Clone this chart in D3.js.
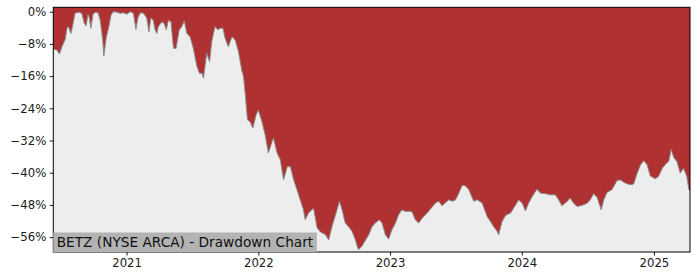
<!DOCTYPE html>
<html>
<head>
<meta charset="utf-8">
<script src="https://cdn.jsdelivr.net/npm/d3@7"></script>
<style>
  html, body { margin: 0; padding: 0; background: #ffffff; }
  svg { display: block; }
</style>
</head>
<body>
<svg id="chart" width="700" height="280"></svg>
<script>
const title = "BETZ (NYSE ARCA) - Drawdown Chart";
const dates = [
  "2020-06-12","2020-06-22","2020-06-29","2020-07-06","2020-07-15","2020-07-20","2020-07-24","2020-07-31",
  "2020-08-05","2020-08-11","2020-08-20","2020-08-30","2020-09-06","2020-09-11","2020-09-16","2020-09-20",
  "2020-09-24","2020-09-30","2020-10-06","2020-10-14","2020-10-20","2020-10-27","2020-10-30","2020-11-06",
  "2020-11-12","2020-11-19","2020-11-25","2020-12-05","2020-12-14","2020-12-23","2021-01-02","2021-01-11",
  "2021-01-20","2021-01-27","2021-02-01","2021-02-08","2021-02-17","2021-02-26","2021-03-04","2021-03-09",
  "2021-03-16","2021-03-21","2021-03-26","2021-03-30","2021-04-09","2021-04-15","2021-04-21","2021-04-27",
  "2021-05-04","2021-05-11","2021-05-18","2021-05-27","2021-06-03","2021-06-10","2021-06-17","2021-06-26",
  "2021-07-05","2021-07-15","2021-07-22","2021-07-29","2021-08-02","2021-08-11","2021-08-19","2021-08-25",
  "2021-09-03","2021-09-11","2021-09-17","2021-09-25","2021-10-01","2021-10-10","2021-10-20","2021-10-29",
  "2021-11-07","2021-11-16","2021-11-21","2021-11-26","2021-12-02","2021-12-09","2021-12-17","2021-12-26",
  "2022-01-01","2022-01-11","2022-01-20","2022-01-29","2022-02-08","2022-02-12","2022-02-22","2022-03-03",
  "2022-03-12","2022-03-22","2022-03-31","2022-04-09","2022-04-18","2022-04-27","2022-05-06","2022-05-11",
  "2022-05-20","2022-06-03","2022-06-13","2022-06-22","2022-07-06","2022-07-15","2022-07-24","2022-08-07",
  "2022-08-14","2022-08-21","2022-08-30","2022-09-08","2022-09-18","2022-09-27","2022-10-03","2022-10-06",
  "2022-10-15","2022-10-25","2022-11-03","2022-11-12","2022-11-21","2022-12-02","2022-12-10","2022-12-19",
  "2022-12-28","2023-01-06","2023-01-16","2023-01-25","2023-02-03","2023-02-12","2023-02-22","2023-03-03",
  "2023-03-12","2023-03-21","2023-03-31","2023-04-14","2023-04-23","2023-05-07","2023-05-16","2023-05-25",
  "2023-06-03","2023-06-13","2023-06-22","2023-07-01","2023-07-10","2023-07-20","2023-07-29","2023-08-07",
  "2023-08-21","2023-08-30","2023-09-13","2023-09-27","2023-10-06","2023-10-15","2023-10-25","2023-10-29",
  "2023-11-07","2023-11-17","2023-12-01","2023-12-10","2023-12-23","2024-01-02","2024-01-11","2024-01-20",
  "2024-01-30","2024-02-12","2024-02-22","2024-03-06","2024-03-20","2024-04-03","2024-04-12","2024-04-21",
  "2024-05-05","2024-05-14","2024-05-23","2024-06-02","2024-06-16","2024-06-30","2024-07-09","2024-07-18",
  "2024-07-28","2024-08-08","2024-08-15","2024-08-24","2024-09-07","2024-09-21","2024-09-30","2024-10-14",
  "2024-10-28","2024-11-06","2024-11-16","2024-11-25","2024-12-04","2024-12-13","2024-12-22","2025-01-05",
  "2025-01-14","2025-01-24","2025-02-05","2025-02-11","2025-02-18","2025-02-25","2025-03-06","2025-03-15",
  "2025-03-24","2025-04-02","2025-04-08","2025-04-11"
];
const drawdown = [
  -9.3,-9.5,-10.5,-8.7,-6.85,-4.1,-3.7,-5.4,
  -3.3,-0.4,-0.1,-0.4,-2.9,-3.5,-0.6,-1.6,
  -4.1,-0.6,-0.15,-0.25,-2.1,-7.0,-11.0,-6.2,
  -4.1,-0.8,0,-0.1,-0.4,-0.25,-0.6,0,
  -0.4,-4.4,-1.6,-0.25,-0.4,-1.6,-5.0,-1.6,
  -2.1,-4.5,-5.4,-3.7,-2.5,-2.9,-4.5,-2.1,
  -2.5,-9.1,-9.1,-4.5,-3.7,-2.3,-5.4,-6.2,
  -9.1,-13.6,-15.3,-15.3,-16.5,-10.3,-12.4,-7.4,
  -3.7,-4.5,-4.1,-4.1,-6.6,-8.7,-6.2,-7.0,
  -9.9,-14.5,-16.1,-20.7,-26.9,-27.3,-28.9,-25.6,
  -24.4,-27.3,-30.6,-35.1,-32.3,-31.4,-35.1,-36.8,
  -41.8,-38.5,-38.5,-41.8,-44.2,-46.7,-49.2,-51.7,
  -50.0,-48.8,-53.7,-54.7,-55.4,-56.7,-53.4,-49.2,
  -47.1,-49.2,-52.5,-53.4,-54.6,-56.7,-58.6,-59.1,
  -58.3,-56.7,-55.4,-53.4,-52.5,-51.7,-52.5,-55.4,
  -56.5,-54.2,-52.5,-50.4,-49.2,-49.6,-49.6,-49.7,
  -51.7,-52.5,-51.3,-50.0,-49.0,-47.5,-47.1,-48.2,
  -47.5,-46.7,-47.1,-46.8,-45.2,-43.1,-43.3,-44.2,
  -47.1,-46.7,-47.5,-50.9,-52.1,-53.4,-54.6,-55.4,
  -52.2,-50.6,-50.0,-48.7,-46.8,-47.5,-49.5,-47.5,
  -45.9,-44.1,-45.1,-45.2,-45.5,-45.5,-46.7,-48.2,
  -47.2,-46.3,-47.5,-48.4,-48.1,-47.6,-46.7,-45.2,
  -46.2,-49.2,-46.7,-44.9,-44.2,-41.9,-41.8,-42.6,
  -43.0,-42.8,-40.0,-38.0,-37.0,-38.0,-40.8,-41.5,
  -40.9,-38.9,-37.6,-37.2,-34.2,-36.2,-37.3,-40.1,
  -38.9,-40.9,-44.2,-44.5
];
const yTicks = [0, -8, -16, -24, -32, -40, -48, -56];
const xTickYears = [2021, 2022, 2023, 2024, 2025];

const W = 700, H = 280;
const margin = {left: 53.3, right: 10, top: 7.3, bottom: 28};
const iw = W - margin.left - margin.right;
const ih = H - margin.top - margin.bottom;

const parse = d3.timeParse("%Y-%m-%d");
const data = dates.map((d, i) => ({date: parse(d), v: drawdown[i]}));

const x = d3.scaleTime().domain(d3.extent(data, d => d.date)).range([0, iw]);
const y = d3.scaleLinear().domain([-59.7, 1.1]).range([ih, 0]);

const svg = d3.select("#chart");
const g = svg.append("g").attr("transform", `translate(${margin.left},${margin.top})`);

// background below curve
g.append("rect").attr("x", 0).attr("y", 0).attr("width", iw).attr("height", ih).attr("fill", "#ededed");

// red area from curve to top
const area = d3.area().x(d => x(d.date)).y0(0).y1(d => y(d.v));
g.append("path").datum(data).attr("d", area).attr("fill", "#b03131");

const line = d3.line().x(d => x(d.date)).y(d => y(d.v));
g.append("path").datum(data).attr("d", line).attr("fill", "none")
  .attr("stroke", "#8a8a8a").attr("stroke-width", 1);

const font = "DejaVu Sans, sans-serif";

// axes
const yAxis = d3.axisLeft(y).tickValues(yTicks).tickSizeOuter(0).tickSize(3.5).tickPadding(3.5)
  .tickFormat(d => (d < 0 ? "\u2212" + Math.abs(d) : d) + "%");
const yg = g.append("g").call(yAxis);
const xAxis = d3.axisBottom(x).tickValues(xTickYears.map(yr => new Date(yr, 0, 1)))
  .tickSizeOuter(0).tickSize(3.5).tickPadding(3.5).tickFormat(d3.timeFormat("%Y"));
const xg = g.append("g").attr("transform", `translate(0,${ih})`).call(xAxis);
[yg, xg].forEach(a => {
  a.select(".domain").remove();
  a.selectAll("text").attr("font-family", font).attr("font-size", "11.7px").attr("fill", "#1a1a1a");
  a.selectAll("line").attr("stroke", "#000").attr("stroke-width", 0.9);
});

// frame
g.append("rect").attr("x", 0).attr("y", 0).attr("width", iw).attr("height", ih)
  .attr("fill", "none").attr("stroke", "#000").attr("stroke-width", 1);

// title label box
const lbl = g.append("g");
const t = lbl.append("text").attr("x", 3.4).attr("y", ih - 5)
  .attr("font-family", font).attr("font-size", "13.7px").attr("fill", "#111").text(title);
const bb = t.node().getBBox();
lbl.insert("rect", "text").attr("x", 0).attr("y", bb.y - 1.5)
  .attr("width", bb.x + bb.width + 3).attr("height", ih - (bb.y - 1.5)).attr("fill", "#b3b3b3");
</script>
</body>
</html>
